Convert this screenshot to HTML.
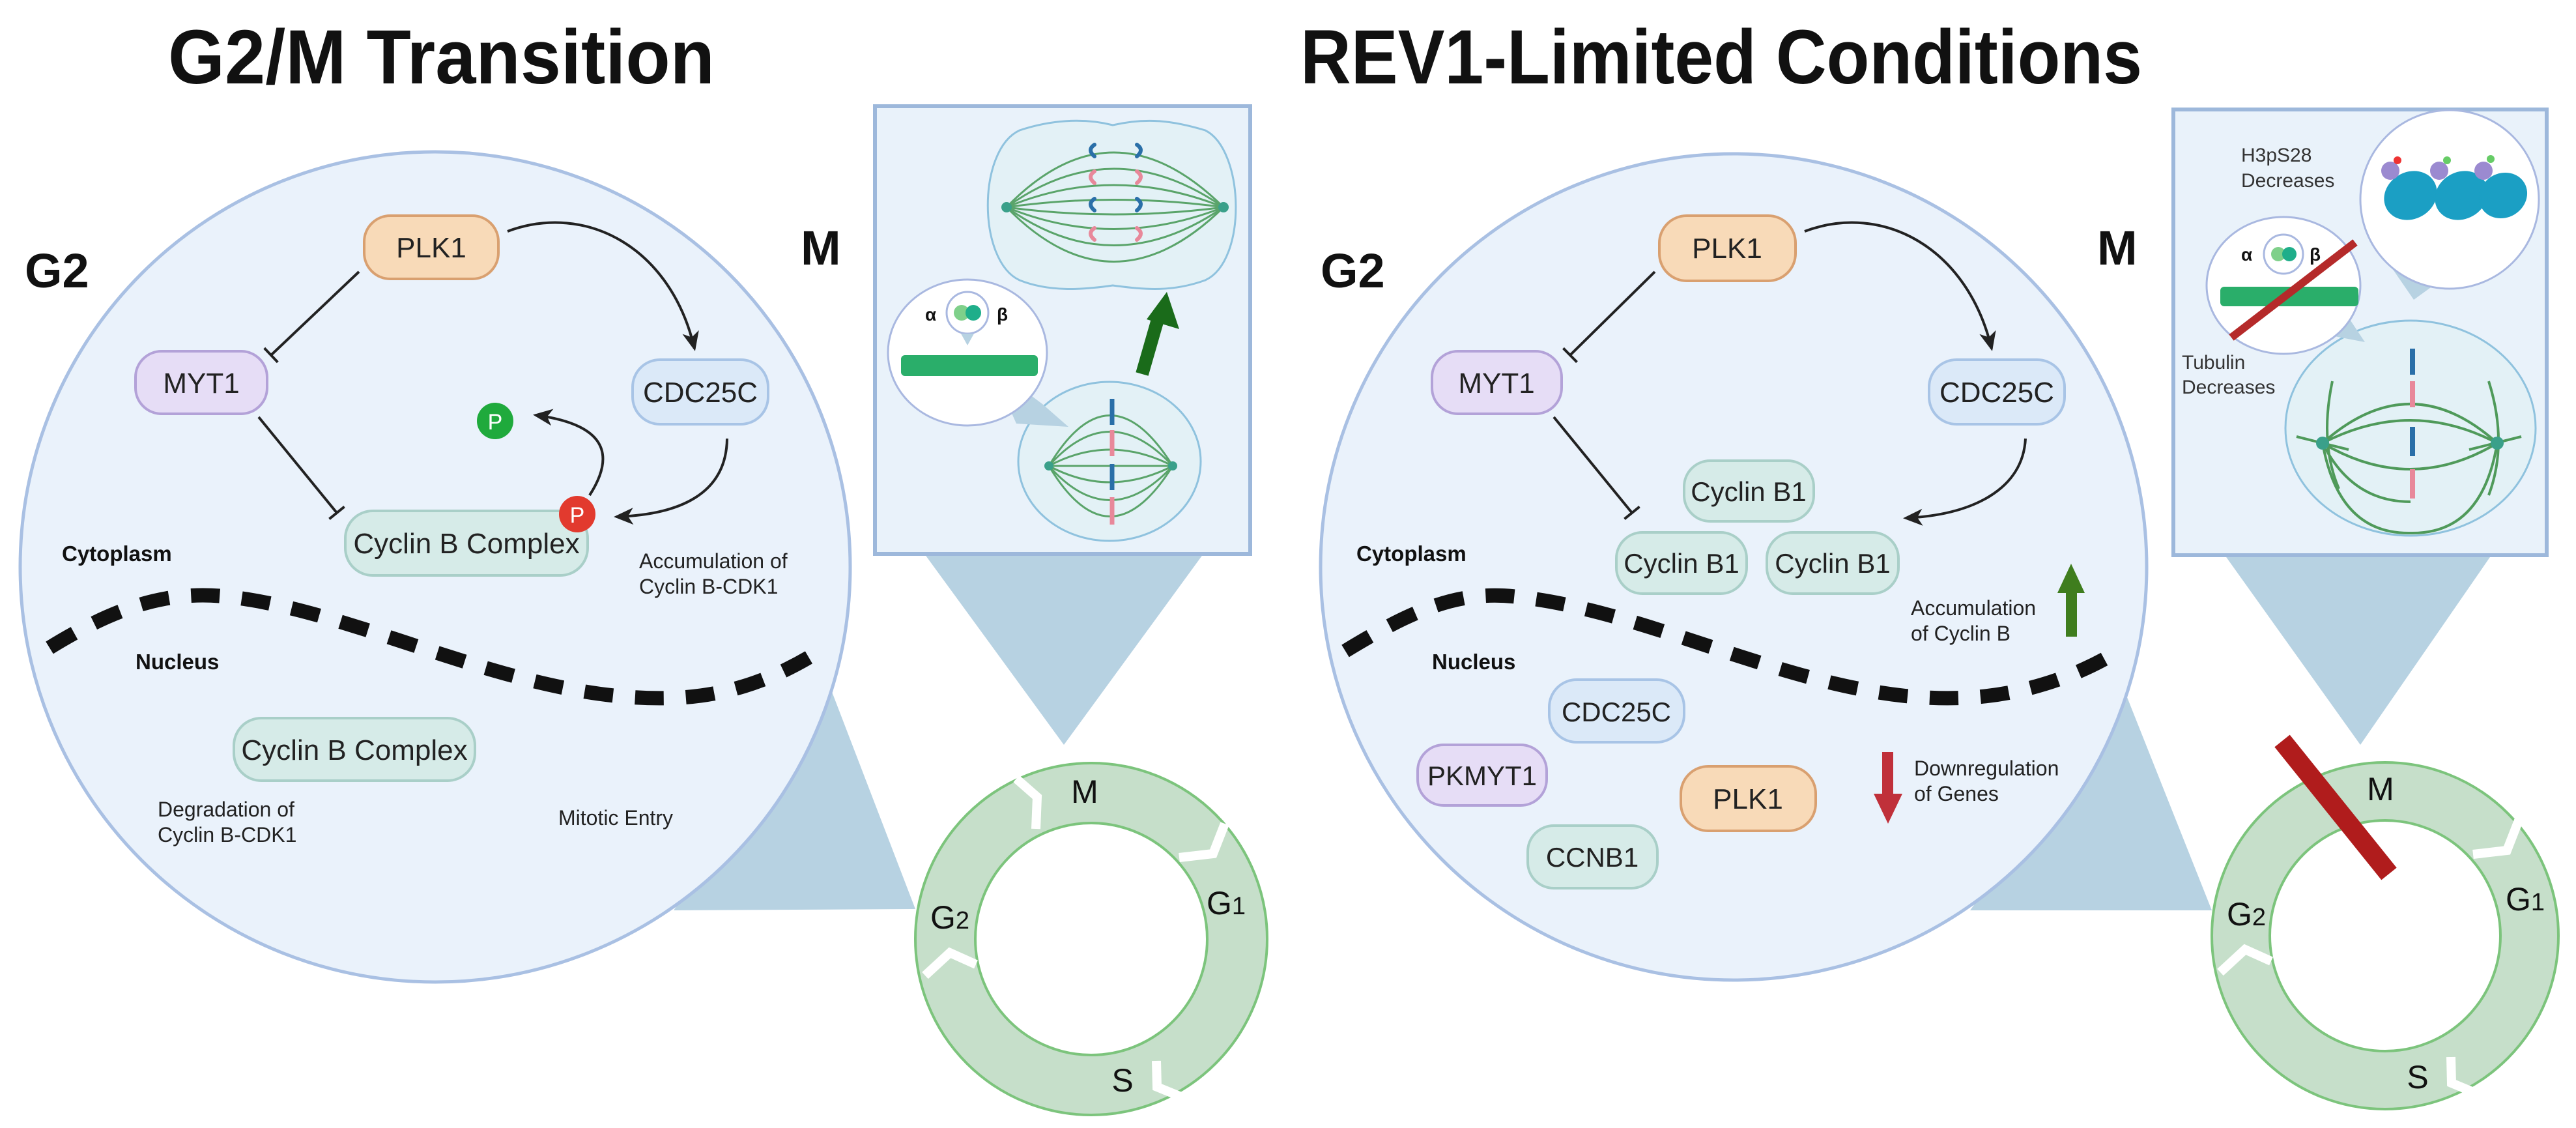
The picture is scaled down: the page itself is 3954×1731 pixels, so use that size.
<!DOCTYPE html>
<html><head><meta charset="utf-8"><style>
html,body{margin:0;padding:0;background:#fff;}
svg{display:block;}
text{font-family:"Liberation Sans",sans-serif;}
</style></head><body>
<svg width="3954" height="1731" viewBox="0 0 3954 1731" xmlns="http://www.w3.org/2000/svg">
<defs>
<marker id="ah" viewBox="0 0 10 10" refX="8" refY="5" markerWidth="7" markerHeight="7" orient="auto" markerUnits="userSpaceOnUse" style="overflow:visible">
<path d="M0,0 L10,5 L0,10 L3,5 z" fill="#222" transform="scale(3) translate(-4,-5) translate(4,5)"/>
</marker>
<marker id="ah2" viewBox="0 0 30 30" refX="26" refY="15" markerWidth="30" markerHeight="30" orient="auto" markerUnits="userSpaceOnUse">
<path d="M0,2 L30,15 L0,28 L8,15 z" fill="#222"/>
</marker>
<marker id="tb" viewBox="0 0 10 30" refX="5" refY="15" markerWidth="10" markerHeight="30" orient="auto" markerUnits="userSpaceOnUse">
<rect x="3" y="0" width="4" height="30" fill="#222"/>
</marker>
</defs>

<!-- ================= LEFT PANEL ================= -->
<text x="258" y="128" font-size="118" font-weight="bold" textLength="839" lengthAdjust="spacingAndGlyphs" fill="#111">G2/M Transition</text>

<!-- callout triangle to ring -->
<polygon points="1274,1054 1405,1395 1034,1397" fill="#b7d2e2"/>
<circle cx="668" cy="870" r="637" fill="#eaf2fb" stroke="#a9c0e3" stroke-width="5"/>
<text x="38" y="441" font-size="74" font-weight="bold" fill="#111">G2</text>
<text x="1229" y="406" font-size="74" font-weight="bold" fill="#111">M</text>

<!-- arrows -->
<path d="M779,355 C900,310 1030,380 1066,535" fill="none" stroke="#222" stroke-width="4" marker-end="url(#ah2)"/>
<path d="M551,417 L416,545" fill="none" stroke="#222" stroke-width="4" marker-end="url(#tb)"/>
<path d="M397,640 L517,787" fill="none" stroke="#222" stroke-width="4" marker-end="url(#tb)"/>
<path d="M1116,673 C1115,760 1040,790 946,793" fill="none" stroke="#222" stroke-width="4" marker-end="url(#ah2)"/>
<path d="M905,760 C950,690 920,650 822,637" fill="none" stroke="#222" stroke-width="4" marker-end="url(#ah2)"/>

<rect x="559" y="331" width="206" height="97" rx="40" fill="#f8dab8" stroke="#d9a070" stroke-width="4"/>
<text x="662" y="395" font-size="44" text-anchor="middle" fill="#222">PLK1</text>
<rect x="208" y="539" width="202" height="96" rx="40" fill="#e6ddf6" stroke="#b3a2d8" stroke-width="4"/>
<text x="309" y="603" font-size="44" text-anchor="middle" fill="#222">MYT1</text>
<rect x="971" y="552" width="208" height="99" rx="42" fill="#dbe9f8" stroke="#a8c4e6" stroke-width="4"/>
<text x="1075" y="617" font-size="44" text-anchor="middle" fill="#222">CDC25C</text>
<rect x="530" y="784" width="372" height="99" rx="42" fill="#d6ebe8" stroke="#a9cfc8" stroke-width="4"/>
<text x="716" y="849" font-size="44" text-anchor="middle" fill="#222">Cyclin B Complex</text>
<circle cx="886" cy="789" r="28" fill="#e23a2e"/>
<text x="886" y="802" font-size="34" text-anchor="middle" fill="#fff">P</text>
<circle cx="760" cy="646" r="28" fill="#1faa3c"/>
<text x="760" y="659" font-size="34" text-anchor="middle" fill="#fff">P</text>

<text x="95" y="861" font-size="33" font-weight="bold" fill="#111">Cytoplasm</text>
<text x="981" y="872" font-size="32" fill="#222">Accumulation of</text>
<text x="981" y="911" font-size="32" fill="#222">Cyclin B-CDK1</text>

<path d="M76,994 C180,930 260,905 353,916 C560,940 800,1080 1034,1071 C1120,1068 1190,1040 1248,1005" fill="none" stroke="#111" stroke-width="22" stroke-dasharray="44,34"/>

<text x="208" y="1027" font-size="33" font-weight="bold" fill="#111">Nucleus</text>
<rect x="359" y="1102" width="370" height="96" rx="42" fill="#d6ebe8" stroke="#a9cfc8" stroke-width="4"/>
<text x="544" y="1166" font-size="44" text-anchor="middle" fill="#222">Cyclin B Complex</text>
<text x="242" y="1253" font-size="32" fill="#222">Degradation of</text>
<text x="242" y="1292" font-size="32" fill="#222">Cyclin B-CDK1</text>
<text x="857" y="1266" font-size="32" fill="#222">Mitotic Entry</text>

<!-- M box left -->
<polygon points="1419,850 1847,850 1633,1143" fill="#b7d2e2"/>
<rect x="1343" y="163" width="576" height="687" fill="#e9f2fa" stroke="#9db8db" stroke-width="6"/>
<!-- upper dividing cell -->
<path d="M1708,192 C1760,180 1800,185 1850,200 C1910,230 1915,400 1850,430 C1800,448 1760,445 1708,438 C1660,445 1610,448 1565,430 C1500,400 1500,230 1565,200 C1610,185 1660,180 1708,192 z" fill="#e3f1f6" stroke="#8fc2de" stroke-width="3"/>
<g fill="none" stroke="#5aa46a" stroke-width="3">
<path d="M1545,318 Q1708,150 1878,318"/><path d="M1545,318 Q1708,200 1878,318"/><path d="M1545,318 Q1708,250 1878,318"/><path d="M1545,318 Q1708,295 1878,318"/><path d="M1545,318 Q1708,340 1878,318"/><path d="M1545,318 Q1708,385 1878,318"/><path d="M1545,318 Q1708,435 1878,318"/><path d="M1545,318 Q1708,485 1878,318"/>
</g>
<circle cx="1545" cy="318" r="8" fill="#3aa08a"/><circle cx="1878" cy="318" r="8" fill="#3aa08a"/>
<g fill="none" stroke-width="6" stroke-linecap="round">
<path d="M1680,222 q-12,8 0,18" stroke="#2a6fa8"/><path d="M1745,222 q12,8 0,18" stroke="#2a6fa8"/>
<path d="M1680,263 q-12,8 0,18" stroke="#e8889a"/><path d="M1745,263 q12,8 0,18" stroke="#e8889a"/>
<path d="M1680,305 q-12,8 0,18" stroke="#2a6fa8"/><path d="M1745,305 q12,8 0,18" stroke="#2a6fa8"/>
<path d="M1680,350 q-12,8 0,18" stroke="#e8889a"/><path d="M1745,350 q12,8 0,18" stroke="#e8889a"/>
</g>
<!-- lower cell -->
<ellipse cx="1703" cy="708" rx="140" ry="122" fill="#e3f1f6" stroke="#8fc2de" stroke-width="3"/>
<g fill="none" stroke="#5aa46a" stroke-width="3">
<path d="M1610,715 Q1703,560 1800,715"/><path d="M1610,715 Q1703,610 1800,715"/><path d="M1610,715 Q1703,665 1800,715"/><path d="M1610,715 Q1703,715 1800,715"/><path d="M1610,715 Q1703,765 1800,715"/><path d="M1610,715 Q1703,820 1800,715"/><path d="M1610,715 Q1703,870 1800,715"/>
</g>
<circle cx="1610" cy="715" r="7" fill="#3aa08a"/><circle cx="1800" cy="715" r="7" fill="#3aa08a"/>
<g stroke-width="7">
<line x1="1707" y1="612" x2="1707" y2="652" stroke="#2a6fa8"/><line x1="1707" y1="660" x2="1707" y2="700" stroke="#e8889a"/>
<line x1="1707" y1="712" x2="1707" y2="752" stroke="#2a6fa8"/><line x1="1707" y1="763" x2="1707" y2="805" stroke="#e8889a"/>
</g>
<!-- inset -->
<polygon points="1520,560 1600,620 1640,655 1560,650" fill="#b7d2e2"/>
<ellipse cx="1485" cy="541" rx="122" ry="112" fill="#fff" stroke="#a9b8e0" stroke-width="3"/>
<circle cx="1485" cy="480" r="32" fill="#fff" stroke="#a9b8e0" stroke-width="3"/>
<polygon points="1475,512 1495,512 1485,530" fill="#b7d2e2"/>
<circle cx="1476" cy="480" r="12" fill="#7fd08a"/><circle cx="1494" cy="480" r="12" fill="#1fae8a"/>
<text x="1420" y="492" font-size="28" font-weight="bold" fill="#111">α</text>
<text x="1530" y="492" font-size="28" font-weight="bold" fill="#111">β</text>
<rect x="1383" y="545" width="210" height="32" rx="6" fill="#2aae6a"/>

<path d="M1753,574 L1780,480" stroke="#1a6b1a" stroke-width="20"/>
<polygon points="1791,448 1810,505 1760,490" fill="#1a6b1a"/>

<!-- ring left -->
<circle cx="1675" cy="1441" r="224" fill="none" stroke="#c6dfca" stroke-width="92"/>
<circle cx="1675" cy="1441" r="270" fill="none" stroke="#7cc47c" stroke-width="4"/>
<circle cx="1675" cy="1441" r="178" fill="#fff" stroke="#7cc47c" stroke-width="4"/>
<g fill="none" stroke="#fff" stroke-width="14">
<polyline points="1560,1195 1592,1223 1590,1272"/>
<polyline points="1880,1264 1862,1310 1810,1316"/>
<polyline points="1775,1628 1776,1668 1820,1686"/>
<polyline points="1420,1497 1458,1462 1498,1480"/>
</g>
<text x="1665" y="1232" font-size="50" text-anchor="middle" fill="#111">M</text>
<text x="1852" y="1403" font-size="50" fill="#111">G<tspan font-size="38">1</tspan></text>
<text x="1428" y="1425" font-size="50" fill="#111">G<tspan font-size="38">2</tspan></text>
<text x="1723" y="1675" font-size="50" text-anchor="middle" fill="#111">S</text>

<!-- ================= RIGHT PANEL ================= -->
<text x="1996" y="128" font-size="118" font-weight="bold" textLength="1292" lengthAdjust="spacingAndGlyphs" fill="#111">REV1-Limited Conditions</text>
<polygon points="3263,1065 3395,1397 3024,1397" fill="#b7d2e2"/>
<circle cx="2661" cy="870" r="634" fill="#eaf2fb" stroke="#a9c0e3" stroke-width="5"/>
<text x="2027" y="441" font-size="74" font-weight="bold" fill="#111">G2</text>
<text x="3219" y="406" font-size="74" font-weight="bold" fill="#111">M</text>

<path d="M2770,355 C2890,310 3020,380 3057,535" fill="none" stroke="#222" stroke-width="4" marker-end="url(#ah2)"/>
<path d="M2540,417 L2410,545" fill="none" stroke="#222" stroke-width="4" marker-end="url(#tb)"/>
<path d="M2385,640 L2505,787" fill="none" stroke="#222" stroke-width="4" marker-end="url(#tb)"/>
<path d="M3109,673 C3105,750 3030,790 2925,795" fill="none" stroke="#222" stroke-width="4" marker-end="url(#ah2)"/>

<rect x="2547" y="331" width="209" height="100" rx="42" fill="#f8dab8" stroke="#d9a070" stroke-width="4"/>
<text x="2651" y="396" font-size="44" text-anchor="middle" fill="#222">PLK1</text>
<rect x="2198" y="539" width="199" height="96" rx="40" fill="#e6ddf6" stroke="#b3a2d8" stroke-width="4"/>
<text x="2297" y="603" font-size="44" text-anchor="middle" fill="#222">MYT1</text>
<rect x="2961" y="552" width="208" height="99" rx="42" fill="#dbe9f8" stroke="#a8c4e6" stroke-width="4"/>
<text x="3065" y="617" font-size="44" text-anchor="middle" fill="#222">CDC25C</text>
<rect x="2585" y="707" width="199" height="93" rx="40" fill="#d6ebe8" stroke="#a9cfc8" stroke-width="4"/>
<text x="2684" y="769" font-size="42" text-anchor="middle" fill="#222">Cyclin B1</text>
<rect x="2481" y="817" width="200" height="94" rx="40" fill="#d6ebe8" stroke="#a9cfc8" stroke-width="4"/>
<text x="2581" y="879" font-size="42" text-anchor="middle" fill="#222">Cyclin B1</text>
<rect x="2712" y="817" width="202" height="94" rx="40" fill="#d6ebe8" stroke="#a9cfc8" stroke-width="4"/>
<text x="2813" y="879" font-size="42" text-anchor="middle" fill="#222">Cyclin B1</text>

<text x="2082" y="861" font-size="33" font-weight="bold" fill="#111">Cytoplasm</text>
<text x="2933" y="944" font-size="32" fill="#222">Accumulation</text>
<text x="2933" y="983" font-size="32" fill="#222">of Cyclin B</text>
<rect x="3171" y="905" width="17" height="72" fill="#3f7d1e"/>
<polygon points="3158,910 3179,865 3200,910" fill="#3f7d1e"/>

<path d="M2065,999 C2170,935 2240,905 2330,916 C2550,940 2780,1080 3011,1071 C3100,1068 3180,1040 3238,1007" fill="none" stroke="#111" stroke-width="22" stroke-dasharray="44,34"/>

<text x="2198" y="1027" font-size="33" font-weight="bold" fill="#111">Nucleus</text>
<rect x="2378" y="1043" width="207" height="96" rx="42" fill="#dbe9f8" stroke="#a8c4e6" stroke-width="4"/>
<text x="2481" y="1107" font-size="42" text-anchor="middle" fill="#222">CDC25C</text>
<rect x="2176" y="1143" width="198" height="93" rx="40" fill="#e6ddf6" stroke="#b3a2d8" stroke-width="4"/>
<text x="2275" y="1205" font-size="42" text-anchor="middle" fill="#222">PKMYT1</text>
<rect x="2580" y="1176" width="207" height="99" rx="42" fill="#f8dab8" stroke="#d9a070" stroke-width="4"/>
<text x="2683" y="1241" font-size="44" text-anchor="middle" fill="#222">PLK1</text>
<rect x="2345" y="1267" width="199" height="96" rx="40" fill="#d6ebe8" stroke="#a9cfc8" stroke-width="4"/>
<text x="2444" y="1330" font-size="42" text-anchor="middle" fill="#222">CCNB1</text>
<rect x="2889" y="1154" width="17" height="68" fill="#c0303a"/>
<polygon points="2876,1218 2898,1264 2920,1218" fill="#c0303a"/>
<text x="2938" y="1190" font-size="32" fill="#222">Downregulation</text>
<text x="2938" y="1229" font-size="32" fill="#222">of Genes</text>

<!-- M box right -->
<polygon points="3415,852 3824,852 3623,1143" fill="#b7d2e2"/>
<rect x="3336" y="168" width="573" height="684" fill="#e9f2fa" stroke="#9db8db" stroke-width="6"/>
<text x="3440" y="248" font-size="30" fill="#333">H3pS28</text>
<text x="3440" y="287" font-size="30" fill="#333">Decreases</text>
<ellipse cx="3700" cy="657" rx="192" ry="165" fill="#e3f1f6" stroke="#8fc2de" stroke-width="3"/>
<g fill="none" stroke="#4f9a5a" stroke-width="4">
<path d="M3565,680 Q3700,560 3833,680"/><path d="M3565,680 Q3700,610 3833,680"/><path d="M3565,680 Q3700,760 3833,680"/>
<path d="M3565,680 Q3590,820 3700,818 Q3810,820 3833,680"/><path d="M3565,680 Q3610,770 3700,770"/>
<path d="M3580,585 Q3560,680 3590,750"/><path d="M3820,585 Q3850,680 3820,760"/>
<path d="M3525,670 L3605,690"/><path d="M3790,690 L3870,670"/>
</g>
<circle cx="3565" cy="680" r="10" fill="#3aa08a"/><circle cx="3833" cy="680" r="10" fill="#3aa08a"/>
<g stroke-width="8">
<line x1="3703" y1="535" x2="3703" y2="575" stroke="#2a6fa8"/><line x1="3703" y1="585" x2="3703" y2="625" stroke="#e8889a"/>
<line x1="3703" y1="655" x2="3703" y2="700" stroke="#2a6fa8"/><line x1="3703" y1="720" x2="3703" y2="765" stroke="#e8889a"/>
</g>
<polygon points="3650,380 3760,420 3705,460" fill="#b7d2e2"/>
<polygon points="3500,500 3600,480 3630,525" fill="#b7d2e2"/>
<circle cx="3760" cy="306" r="137" fill="#fff" stroke="#a9b8e0" stroke-width="3"/>
<g fill="#1b9fc4">
<ellipse cx="3700" cy="300" rx="42" ry="36" transform="rotate(-30 3700 300)"/>
<ellipse cx="3778" cy="300" rx="42" ry="36" transform="rotate(-30 3778 300)"/>
<ellipse cx="3842" cy="300" rx="38" ry="34" transform="rotate(-30 3842 300)"/>
</g>
<circle cx="3669" cy="262" r="14" fill="#9b8ad0"/><circle cx="3744" cy="262" r="14" fill="#9b8ad0"/><circle cx="3812" cy="262" r="14" fill="#9b8ad0"/>
<circle cx="3680" cy="246" r="6" fill="#e33"/><circle cx="3756" cy="246" r="6" fill="#6c6"/><circle cx="3823" cy="244" r="6" fill="#6c6"/>
<ellipse cx="3505" cy="438" rx="118" ry="105" fill="#fff" stroke="#a9b8e0" stroke-width="3"/>
<circle cx="3505" cy="390" r="30" fill="#fff" stroke="#a9b8e0" stroke-width="3"/>
<circle cx="3497" cy="390" r="11" fill="#7fd08a"/><circle cx="3514" cy="390" r="11" fill="#1fae8a"/>
<text x="3440" y="400" font-size="28" font-weight="bold" fill="#111">α</text>
<text x="3545" y="400" font-size="28" font-weight="bold" fill="#111">β</text>
<rect x="3408" y="440" width="212" height="30" rx="6" fill="#2aae6a"/>
<line x1="3425" y1="518" x2="3615" y2="372" stroke="#b52a2a" stroke-width="12"/>
<text x="3349" y="566" font-size="30" fill="#333">Tubulin</text>
<text x="3349" y="604" font-size="30" fill="#333">Decreases</text>

<!-- ring right -->
<circle cx="3661" cy="1436" r="221" fill="none" stroke="#c6dfca" stroke-width="90"/>
<circle cx="3661" cy="1436" r="266" fill="none" stroke="#7cc47c" stroke-width="4"/>
<circle cx="3661" cy="1436" r="177" fill="#fff" stroke="#7cc47c" stroke-width="4"/>
<g fill="none" stroke="#fff" stroke-width="14">
<polyline points="3866,1259 3848,1305 3796,1311"/>
<polyline points="3762,1622 3763,1662 3806,1680"/>
<polyline points="3408,1492 3446,1457 3486,1475"/>
</g>
<line x1="3503" y1="1137" x2="3667" y2="1341" stroke="#b01c1c" stroke-width="30"/>
<text x="3654" y="1228" font-size="50" text-anchor="middle" fill="#111">M</text>
<text x="3846" y="1397" font-size="50" fill="#111">G<tspan font-size="38">1</tspan></text>
<text x="3418" y="1420" font-size="50" fill="#111">G<tspan font-size="38">2</tspan></text>
<text x="3711" y="1670" font-size="50" text-anchor="middle" fill="#111">S</text>
</svg>
</body></html>
